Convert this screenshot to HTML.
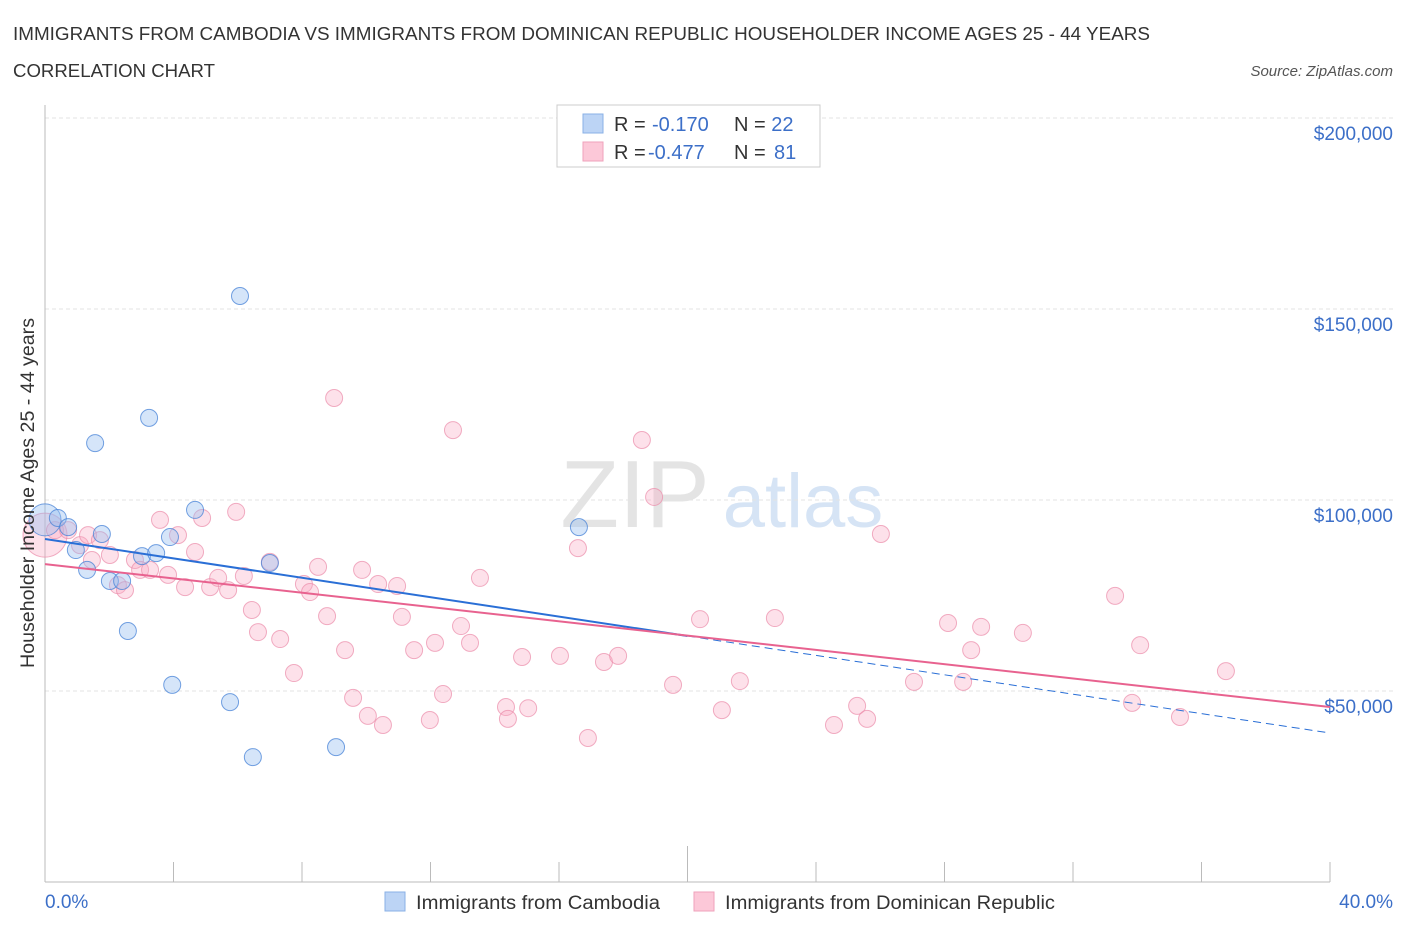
<!DOCTYPE html>
<html><head><meta charset="utf-8"><style>
body{margin:0;background:#fff;font-family:"Liberation Sans",sans-serif;}
svg text{font-family:"Liberation Sans",sans-serif;}
</style></head><body>
<svg id="chart" width="1406" height="930" viewBox="0 0 1406 930" xmlns="http://www.w3.org/2000/svg">
<text x="13" y="40" font-size="18" fill="#333" textLength="1137" lengthAdjust="spacingAndGlyphs">IMMIGRANTS FROM CAMBODIA VS IMMIGRANTS FROM DOMINICAN REPUBLIC HOUSEHOLDER INCOME AGES 25 - 44 YEARS</text>
<text x="13" y="77" font-size="18" fill="#333" textLength="202" lengthAdjust="spacingAndGlyphs">CORRELATION CHART</text>
<text x="1393" y="76" font-size="15" fill="#555" text-anchor="end" font-style="italic">Source: ZipAtlas.com</text>
<g>
<text x="635" y="527" font-size="96" fill="#e4e4e4" text-anchor="middle" font-family="Liberation Serif">ZIP</text>
<text x="803" y="527" font-size="76" fill="#d6e4f5" text-anchor="middle">atlas</text>
</g>
<g id="grid"></g>
<g id="axes"></g>
<g id="pinkDots"></g>
<g id="blueDots"></g>
<g id="trends"></g>
<g>
<rect x="557" y="105" width="263" height="62" fill="#fff" stroke="#ccc"/>
<rect x="583" y="114" width="20" height="19" fill="#bcd4f5" stroke="#8ab0e6"/>
<rect x="583" y="142" width="20" height="19" fill="#fcc8d8" stroke="#efa2bb"/>
<text x="614" y="131" font-size="20" fill="#333">R = </text><text x="652" y="131" font-size="20" fill="#3c6fc8">-0.170</text>
<text x="734" y="131" font-size="20" fill="#333">N = <tspan fill="#3c6fc8">22</tspan></text>
<text x="614" y="159" font-size="20" fill="#333">R = </text><text x="648" y="159" font-size="20" fill="#3c6fc8">-0.477</text>
<text x="734" y="159" font-size="20" fill="#333">N = </text><text x="774" y="159" font-size="20" fill="#3c6fc8">81</text>
</g>
<text transform="translate(34,493) rotate(-90)" font-size="19" fill="#333" text-anchor="middle" textLength="350" lengthAdjust="spacingAndGlyphs">Householder Income Ages 25 - 44 years</text>
<g>
<rect x="385" y="892" width="20" height="19" fill="#bcd4f5" stroke="#8ab0e6"/>
<text x="416" y="909" font-size="19" fill="#333" textLength="244" lengthAdjust="spacingAndGlyphs">Immigrants from Cambodia</text>
<rect x="694" y="892" width="20" height="19" fill="#fcc8d8" stroke="#efa2bb"/>
<text x="725" y="909" font-size="19" fill="#333" textLength="330" lengthAdjust="spacingAndGlyphs">Immigrants from Dominican Republic</text>
</g>
</svg>
<script>
const yTicks=[50000,100000,150000,200000];
const yTickLabels=["$50,000","$100,000","$150,000","$200,000"];
const xTickLabels=["0.0%","40.0%"];
const cambodiaX=[0,0.4,0.72,0.96,1.31,1.56,1.77,2.02,2.40,2.58,3.02,3.24,3.46,3.89,3.96,4.67,5.76,6.07,6.47,7.00,9.06,16.62];
const cambodiaY=[94.8,95.3,92.9,86.9,81.7,114.9,91.1,78.8,78.8,65.7,85.3,121.5,86.1,90.3,51.6,97.4,47.1,153.4,32.7,83.5,35.3,92.9];
const dominicanX=[0,0.31,0.72,1.09,1.34,1.46,1.71,2.02,2.27,2.49,2.80,2.96,3.27,3.58,3.83,4.14,4.36,4.67,4.89,5.14,5.39,5.70,5.95,6.19,6.44,6.63,7.00,7.32,7.75,8.06,8.25,8.50,8.78,9.00,9.34,9.59,9.87,10.05,10.37,10.52,10.96,11.11,11.49,11.98,12.14,12.39,12.70,12.95,13.23,13.54,14.35,14.41,14.85,15.04,16.03,16.59,16.90,17.40,17.84,18.58,18.96,19.55,20.39,21.07,21.63,22.72,24.56,25.28,25.59,26.02,27.05,28.11,28.58,28.83,29.14,30.44,33.31,33.84,34.09,35.33,36.76];
const dominicanY=[90.8,92.1,92.1,88.2,90.8,84.3,89.5,85.6,77.7,76.4,84.3,81.7,81.7,94.8,80.4,90.8,77.2,86.4,95.3,77.2,79.6,76.4,96.9,80.1,71.2,65.4,83.8,63.6,54.7,78.0,75.9,82.5,69.6,126.7,60.7,48.2,81.7,43.5,78.0,41.1,77.5,69.4,60.7,42.4,62.6,49.2,118.3,67.0,62.6,79.6,45.8,42.7,58.9,45.5,59.2,87.4,37.7,57.6,59.2,115.7,100.8,51.6,68.8,45.0,52.6,69.1,41.1,46.1,42.7,91.1,52.4,67.8,52.4,60.7,66.8,65.2,74.9,46.9,62.0,43.2,55.2];
const cambodiaTrend=[89.8,39.0];
const dominicanTrend=[83.2,45.8];
const NS="http://www.w3.org/2000/svg";
const X0=45,X1=1330,Y0=882;
const sx=v=>X0+(v/40)*(X1-X0);
const sy=v=>Y0-(v/50000)*191;
const syk=v=>sy(v*1000);
function mk(t,a,p){const e=document.createElementNS(NS,t);for(const k in a)e.setAttribute(k,a[k]);p.appendChild(e);return e;}
const grid=document.getElementById('grid'),axes=document.getElementById('axes');
mk('line',{x1:X0,x2:1393,y1:118,y2:118,stroke:'#e3e3e3','stroke-dasharray':'4,3'},grid);
yTicks.forEach((t,i)=>{
 const l=mk('line',{x1:X0,x2:1393,y1:sy(t),y2:sy(t),stroke:'#e3e3e3','stroke-dasharray':'4,3'},grid);
 
 
 const tx=mk('text',{x:1393,y:sy(t)+22,'font-size':19,fill:'#3c6fc8','text-anchor':'end'},axes);
 tx.textContent=yTickLabels[i];
 
 
});
mk('line',{x1:X0,x2:X0,y1:105,y2:Y0,stroke:'#bbb'},axes);
mk('line',{x1:X0,x2:X1,y1:Y0,y2:Y0,stroke:'#bbb'},axes);
for(let i=0;i<=10;i++){const x=sx(i*4);const t=mk('line',{x1:x,x2:x,y1:(i==5?846:862),y2:Y0,stroke:'#bbb'},axes);}
const xl0=mk('text',{x:45,y:908,'font-size':19,fill:'#3c6fc8'},axes);xl0.textContent=xTickLabels[0];


const xl1=mk('text',{x:1393,y:908,'font-size':19,fill:'#3c6fc8','text-anchor':'end'},axes);xl1.textContent=xTickLabels[1];


const pd=document.getElementById('pinkDots');
dominicanX.forEach((x,i)=>{const c=mk('circle',{cx:sx(x),cy:syk(dominicanY[i]),r:i==0?22:8.5,fill:'rgba(248,170,195,0.35)',stroke:'rgba(235,140,170,0.7)','stroke-width':1},pd);

});
const bd=document.getElementById('blueDots');
cambodiaX.forEach((x,i)=>{const c=mk('circle',{cx:sx(x),cy:syk(cambodiaY[i]),r:i==0?16:8.5,fill:'rgba(150,190,240,0.4)',stroke:'rgba(70,130,215,0.75)','stroke-width':1},bd);

});
const tr=document.getElementById('trends');
const cy=x=>cambodiaTrend[0]+(cambodiaTrend[1]-cambodiaTrend[0])*x/40;
const l1=mk('line',{x1:sx(0),y1:syk(cy(0)),x2:sx(20),y2:syk(cy(20)),stroke:'#2a6fd6','stroke-width':2},tr);


const l2=mk('line',{x1:sx(20),y1:syk(cy(20)),x2:sx(40),y2:syk(cy(40)),stroke:'#2a6fd6','stroke-width':1,'stroke-dasharray':'8,5'},tr);


const l3=mk('line',{x1:sx(0),y1:syk(dominicanTrend[0]),x2:sx(40),y2:syk(dominicanTrend[1]),stroke:'#e8628f','stroke-width':2},tr);


</script>
</body></html>
